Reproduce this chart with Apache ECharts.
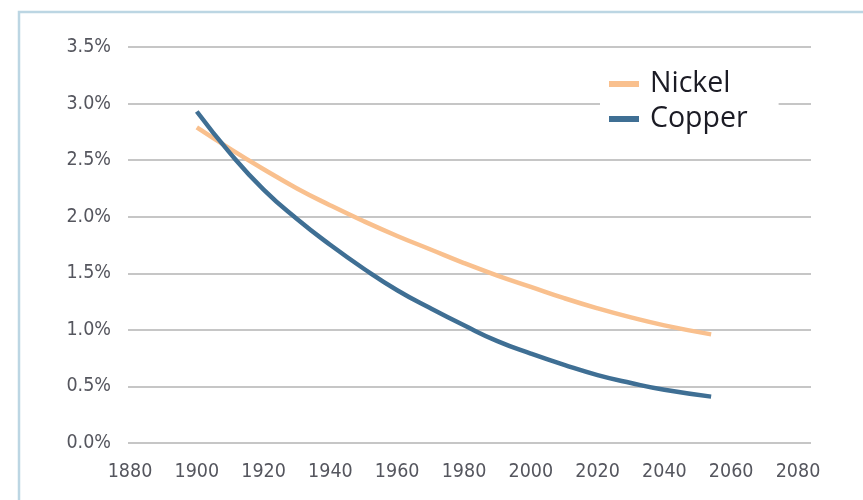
<!DOCTYPE html>
<html>
<head>
<meta charset="utf-8">
<script src="https://cdn.jsdelivr.net/npm/echarts@6/dist/echarts.min.js"></script>
<style>
  html, body { margin: 0; padding: 0; background: #fff; }
  #chart { width: 863px; height: 500px; }
</style>
</head>
<body>
<div id="chart"></div>
<script>
// Years along the horizontal axis
const years = [1900, 1910, 1920, 1930, 1940, 1950, 1960, 1970, 1980, 1990, 2000, 2010, 2020, 2030, 2040, 2054];
// Ore grade, percent
const nickel = [2.79, 2.60, 2.42, 2.25, 2.10, 1.96, 1.83, 1.71, 1.59, 1.48, 1.38, 1.28, 1.19, 1.11, 1.04, 0.96];
const copper = [2.93, 2.56, 2.24, 1.98, 1.75, 1.54, 1.35, 1.19, 1.04, 0.90, 0.79, 0.69, 0.60, 0.53, 0.47, 0.41];
// Tick labels
const xTicks = [1880, 1900, 1920, 1940, 1960, 1980, 2000, 2020, 2040, 2060, 2080];

const tickFont = '"DejaVu Sans Condensed", "Liberation Sans Narrow", sans-serif';

const chart = echarts.init(document.getElementById('chart'), null, { renderer: 'canvas' });
chart.setOption({
  animation: false,
  backgroundColor: '#fff',
  graphic: [{
    type: 'rect',
    shape: { x: 19, y: 12, width: 900, height: 600 },
    style: { fill: 'none', stroke: '#bcd6e3', lineWidth: 2.5 },
    silent: true
  }],
  grid: { left: 128, right: 52, top: 47, bottom: 57, containLabel: false },
  legend: {
    orient: 'vertical',
    left: 600,
    top: 59,
    padding: [10, 31, 10, 9],
    backgroundColor: '#fff',
    icon: 'rect',
    itemWidth: 30,
    itemHeight: 6,
    itemGap: 5,
    textStyle: { fontFamily: '"Open Sans", sans-serif', fontSize: 28.5, color: '#1b1b24', lineHeight: 30, padding: [0, 0, 0, 6] },
    data: ['Nickel', 'Copper']
  },
  xAxis: {
    type: 'value',
    min: 1879.4,
    max: 2083.9,
    axisLine: { show: false },
    axisTick: { show: false },
    splitLine: { show: false },
    axisLabel: {
      customValues: xTicks,
      formatter: v => String(v),
      fontFamily: tickFont,
      fontSize: 19.5,
      color: '#55565e',
      margin: 19
    }
  },
  yAxis: {
    type: 'value',
    min: 0,
    max: 3.5,
    interval: 0.5,
    axisLine: { show: false },
    axisTick: { show: false },
    splitLine: { show: true, lineStyle: { color: '#b3b3b3', width: 1.5 } },
    axisLabel: {
      formatter: v => v.toFixed(1) + '%',
      fontFamily: tickFont,
      fontSize: 19.5,
      color: '#55565e',
      margin: 17,
      padding: [5, 0, 0, 0]
    }
  },
  series: [
    {
      name: 'Nickel',
      type: 'line',
      data: years.map((y, i) => [y, nickel[i]]),
      smooth: 0.5,
      showSymbol: false,
      color: '#f9c08e',
      lineStyle: { width: 4.5, color: '#f9c08e' },
      z: 2
    },
    {
      name: 'Copper',
      type: 'line',
      data: years.map((y, i) => [y, copper[i]]),
      smooth: 0.5,
      showSymbol: false,
      color: '#3f6f94',
      lineStyle: { width: 4.5, color: '#3f6f94' },
      z: 3
    }
  ]
});
</script>
</body>
</html>
